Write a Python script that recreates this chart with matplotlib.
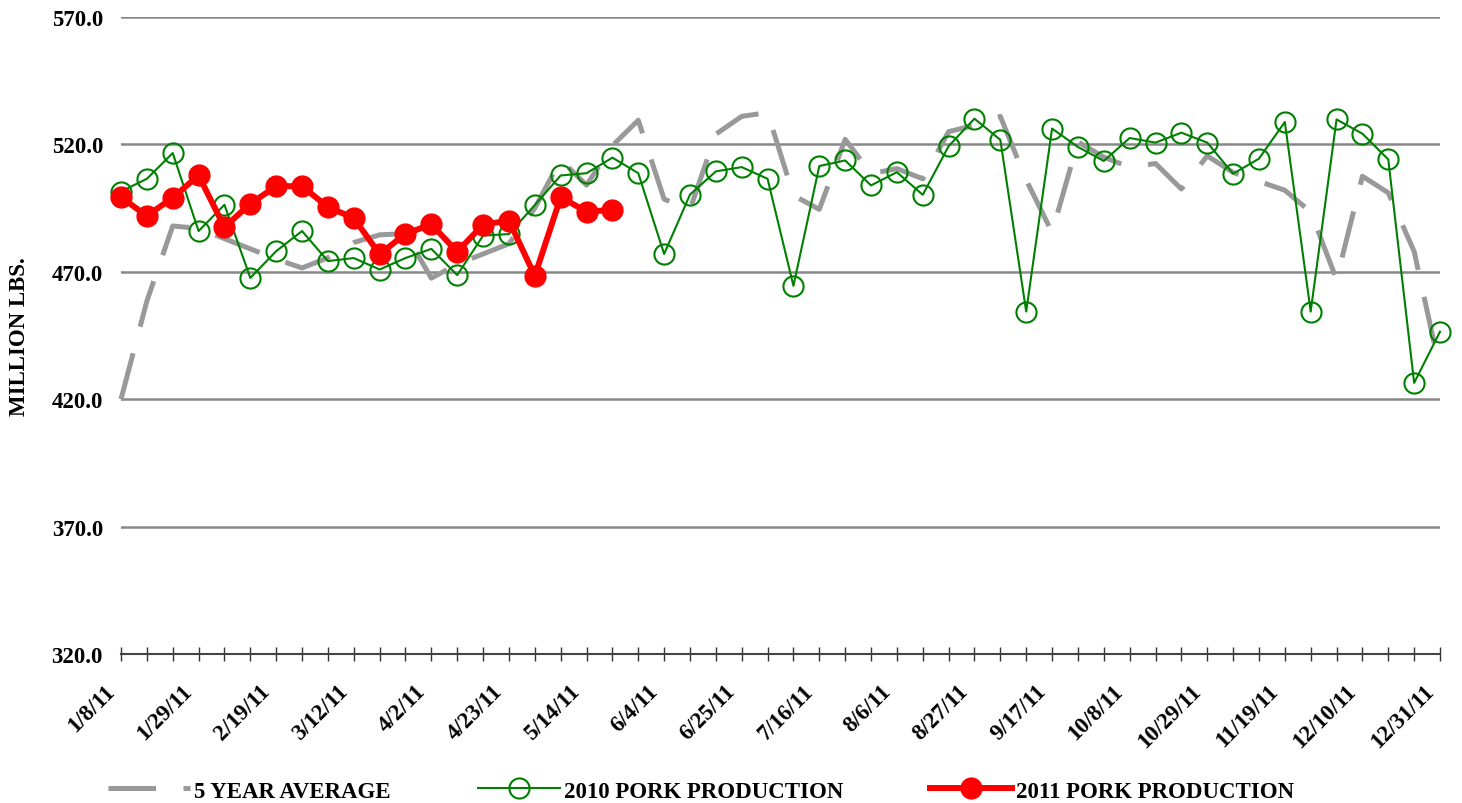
import matplotlib
matplotlib.use("Agg")
import matplotlib.pyplot as plt
from matplotlib.transforms import ScaledTranslation
import pandas as pd
import numpy as np

# ---- data ----
weeks = [d.strftime("%-m/%-d/%y") for d in pd.date_range("2011-01-08", periods=52, freq="7D")]
labeled_weeks = ["1/8/11", "1/29/11", "2/19/11", "3/12/11", "4/2/11", "4/23/11", "5/14/11",
                 "6/4/11", "6/25/11", "7/16/11", "8/6/11", "8/27/11", "9/17/11", "10/8/11",
                 "10/29/11", "11/19/11", "12/10/11", "12/31/11"]

avg5 = [420, 458.5, 488, 487, 483, 479, 475, 471.5, 475.5, 481.5,
        484.5, 485, 467.5, 473, 477, 481, 495, 514, 504, 519.5,
        529.5, 498.5, 494.5, 524, 531, 532.5, 500, 494.5, 522, 508.5,
        510.5, 506.5, 525, 527.5, 531, 506, 485.5, 521, 515, 511,
        512.5, 502.5, 515.5, 509, 505.5, 502, 493.5, 467, 507.5, 501,
        478, 431.5]

pork2010 = [501.5, 506.5, 516.6, 486, 496.3, 467.6, 478.1, 486, 474.2, 475.4,
            470.9, 475.4, 479, 468.7, 484.2, 484.8, 496.2, 507.8, 508.7, 514.8,
            508.7, 477, 500.3, 509.4, 511.1, 506.5, 464.5, 511.5, 513.7, 503.9,
            509.1, 500.2, 519.3, 530.1, 521.8, 454.4, 526.2, 519, 513.5, 522.5,
            520.7, 524.6, 520.7, 508.5, 514.4, 528.8, 454.4, 529.8, 524.2, 514.1,
            426.4, 446.5]

pork2011 = [499.3, 491.9, 499.1, 507.8, 487.5, 496.7, 503.6, 503.6, 495.4, 491.1,
            476.9, 484.9, 488.6, 477.9, 488.5, 490.1, 468.4, 499.3, 493.6, 494.3]

yticks = [320.0, 370.0, 420.0, 470.0, 520.0, 570.0]

# ---- figure ----
plt.rcParams['font.family'] = ['Liberation Serif', 'DejaVu Serif']
plt.rcParams['font.weight'] = 'bold'
FS = 16.5

W, H = 1462, 804
fig = plt.figure(figsize=(W / 100, H / 100), dpi=100)
ax = fig.add_axes([121 / W, (H - 655) / H, 1319 / W, 637 / H])

x = np.arange(len(weeks))
ax.plot(x, avg5, color="#999999", lw=3.6, dashes=(9.5, 5.5), dash_capstyle='butt',
        label="5 YEAR AVERAGE", zorder=2, clip_on=False)
ax.plot(x, pork2010, color="#008000", lw=1.5, marker='o', ms=14.5, mfc='none',
        mec="#008000", mew=1.5, label="2010 PORK PRODUCTION", zorder=3, clip_on=False)
ax.plot(x[:len(pork2011)], pork2011, color="#FF0000", lw=4.3, marker='o', ms=15,
        mfc="#FF0000", mec="#FF0000", label="2011 PORK PRODUCTION", zorder=4, clip_on=False)

ax.set_xlim(0, len(weeks) - 1)
ax.set_ylim(320, 570)
ax.set_yticks(yticks)
ax.set_yticklabels([f"{v:.1f}" for v in yticks], fontsize=FS, fontweight='bold')
ax.tick_params(axis='y', length=0, pad=13)
ax.yaxis.grid(True, color="#888888", lw=1.8)
ax.set_axisbelow(True)

ax.set_xticks(x)
ax.set_xticklabels([w if w in labeled_weeks else "" for w in weeks],
                   rotation=45, ha='right', va='top', rotation_mode='anchor',
                   fontsize=FS, fontweight='bold')
ax.tick_params(axis='x', direction='inout', length=9.5, width=1.0, color="#333333", pad=4)
off = ScaledTranslation(-17 / 100, -14 / 100, fig.dpi_scale_trans)
for lab in ax.get_xticklabels():
    lab.set_transform(lab.get_transform() + off)

for s in ['top', 'right', 'left']:
    ax.spines[s].set_visible(False)
ax.spines['bottom'].set_color("#444444")
ax.spines['bottom'].set_linewidth(1.5)
ax.spines['bottom'].set_zorder(1)

ax.set_ylabel("MILLION LBS.", fontsize=FS, fontweight='bold')
ax.yaxis.set_label_coords((30 - 121) / 1319, 0.5)

fig.legend(loc='center', bbox_to_anchor=(701 / W, 1 - 792 / H), ncol=3, frameon=False,
           prop={'family': 'Liberation Serif', 'weight': 'bold', 'size': FS},
           handlelength=3.6, handletextpad=0.15, columnspacing=3.8)

fig.savefig("out.png", dpi=100)
